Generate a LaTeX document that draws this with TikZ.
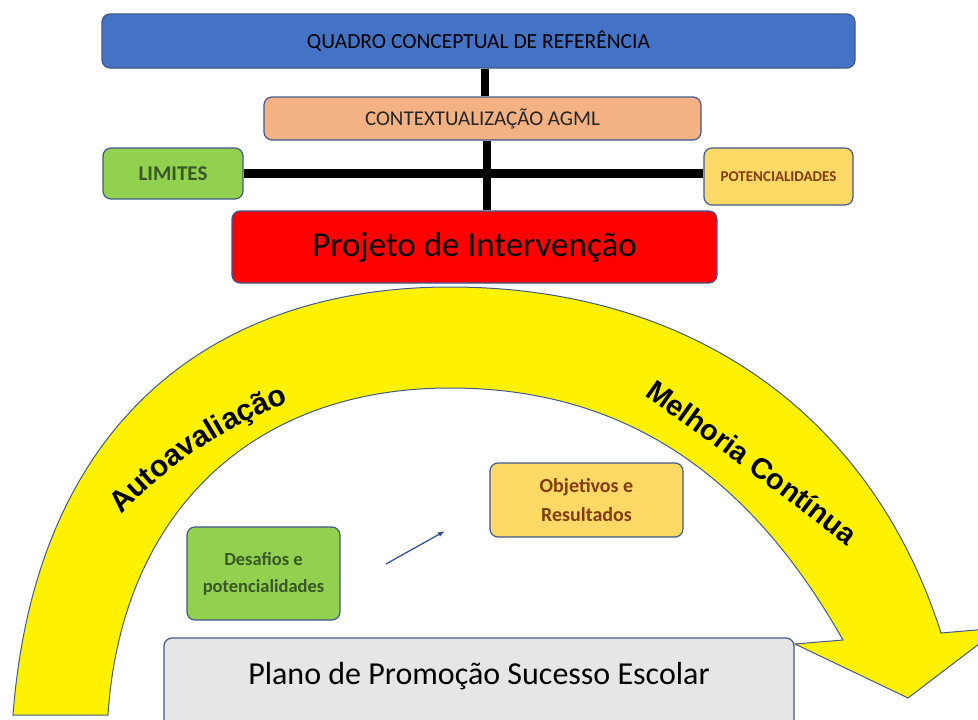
\documentclass[tikz,border=0pt]{standalone}
\usepackage{fontspec}
\setmainfont{Carlito}
\newfontfamily\arialfam{Liberation Sans}
\usetikzlibrary{decorations.text,arrows.meta}

\definecolor{azul}{HTML}{4472C4}
\definecolor{salmao}{HTML}{F4B183}
\definecolor{verde}{HTML}{92D050}
\definecolor{amarelo}{HTML}{FFD966}
\definecolor{cinza}{HTML}{E7E6E6}
\definecolor{borda}{HTML}{42598A}
\definecolor{castanho}{HTML}{843C0C}
\definecolor{verdeesc}{HTML}{3A5726}
\definecolor{seta}{HTML}{2F5597}

\begin{document}
\begin{tikzpicture}[x=1pt,y=-1pt,
	caixa/.style={draw=borda, line width=1.2pt, rounded corners=8pt, inner sep=0pt, align=center},
	traco/.style={draw=black, line width=8pt},
	arco/.style={decorate, decoration={text along path, text align=center, #1}}]
	\useasboundingbox (0,0) rectangle (978,720);

	% seta curva
	\path[fill=yellow, draw=borda, line width=1pt]
		(13,715) .. controls (36,415) and (220,287) .. (450,287)
		.. controls (690,287) and (871,413) .. (941,633)
		-- (1000,628) -- (908,698) -- (795,644) -- (843,640)
		.. controls (752,480) and (630,388) .. (450,388)
		.. controls (250,388) and (121,515) .. (108,715) -- cycle;
	\path[arco={text={|\arialfam\bfseries\fontsize{30}{32}\selectfont|Autoavaliação}}]
		(110,528) .. controls (150,480) and (220,425) .. (305,397);
	\path[arco={text={|\arialfam\bfseries\fontsize{29}{32}\selectfont|Melhoria Contínua}}]
		(618,377) .. controls (696,432) and (790,500) .. (872,566);

	\node[caixa, fill=azul, minimum width=753pt, minimum height=54pt, font=\fontsize{21.5}{26}\selectfont] (quadro) at (478.5,41) {QUADRO CONCEPTUAL DE REFERÊNCIA};
	\node[caixa, fill=salmao, minimum width=437pt, minimum height=43pt, font=\fontsize{21}{26}\selectfont, text=black!85] (ctx) at (482.5,118.5) {CONTEXTUALIZAÇÃO AGML};
	\node[caixa, fill=verde, minimum width=140pt, minimum height=51pt, font=\bfseries\fontsize{21}{26}\selectfont, text=verdeesc] (lim) at (173,173.5) {LIMITES};
	\node[caixa, fill=amarelo, minimum width=149pt, minimum height=57pt, font=\bfseries\fontsize{15}{20}\selectfont, text=castanho] (pot) at (778.5,176.5) {POTENCIALIDADES};
	\node[caixa, fill=red, minimum width=485pt, minimum height=72pt, font=\fontsize{35}{40}\selectfont] (proj) at (474.5,247) {Projeto de Intervenção};

	\draw[traco] ([xshift=2pt]ctx.north) -- ([xshift=2pt]ctx.north |- quadro.south);
	\draw[traco, line width=9pt] (lim.east) -- (lim.east -| pot.west);
	\draw[traco] ([xshift=4pt]ctx.south) -- ([xshift=4pt]ctx.south |- proj.north);

	\node[caixa, fill=verde, minimum width=153pt, minimum height=93pt, font=\bfseries\fontsize{18.5}{27}\selectfont, text=verdeesc] (desaf) at (263.5,573.5) {Desafios e\\potencialidades};
	\node[caixa, fill=amarelo, minimum width=193pt, minimum height=74pt, font=\bfseries\fontsize{20}{29}\selectfont, text=castanho] (obj) at (586.5,500) {Objetivos e\\Resultados};
	\node[caixa, fill=cinza, minimum width=630pt, minimum height=97pt, text height=24pt, text depth=28pt, font=\fontsize{32}{36}\selectfont] (plano) at (479,686.5) {Plano de Promoção Sucesso Escolar};

	\coordinate (d1) at (386,564);
	\coordinate (d2) at (445,531);
	\draw[seta, line width=1.3pt, -{Latex[length=7pt,width=5pt]}] (d1) -- (d2);
\end{tikzpicture}
\end{document}
